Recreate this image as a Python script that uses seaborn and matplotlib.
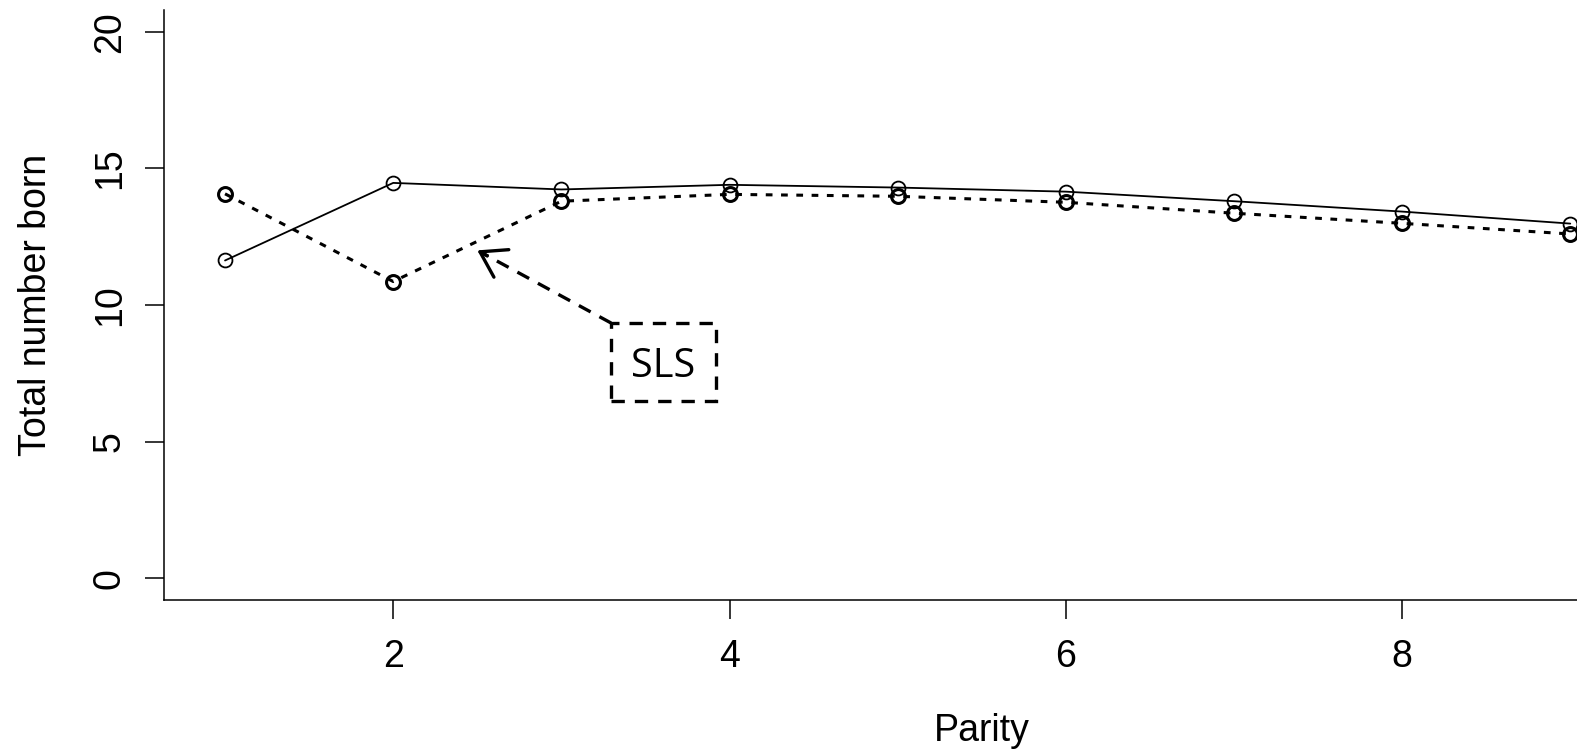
import matplotlib
matplotlib.use("Agg")
import matplotlib.pyplot as plt
import seaborn as sns
import pandas as pd
from matplotlib.patches import Rectangle

parity = [1, 2, 3, 4, 5, 6, 7, 8, 9]
solid_vals = [11.63, 14.47, 14.23, 14.4, 14.3, 14.15, 13.8, 13.42, 12.98]
dotted_vals = [14.07, 10.86, 13.8, 14.05, 13.98, 13.76, 13.36, 12.99, 12.6]
x_ticks = [2, 4, 6, 8]
y_ticks = [0, 5, 10, 15, 20]
annot_text = "SLS"

sns.set_style("ticks")
plt.rcParams['font.family'] = ['Liberation Sans', 'DejaVu Sans']
plt.rcParams['text.color'] = 'black'
plt.rcParams['axes.labelcolor'] = 'black'

fig = plt.figure(figsize=(15.77, 7.51), dpi=100)
ax = fig.add_axes([164/1577, 151/751, 1 - 164/1577, 590/751])

df_s = pd.DataFrame({"Parity": parity, "val": solid_vals})
df_d = pd.DataFrame({"Parity": parity, "val": dotted_vals})

sns.lineplot(data=df_s, x="Parity", y="val", ax=ax, color="black", lw=1.3,
             marker="o", markersize=10, markerfacecolor="none",
             markeredgecolor="black", markeredgewidth=1.3, clip_on=True)
sns.lineplot(data=df_d, x="Parity", y="val", ax=ax, color="black", lw=2.2,
             linestyle=(0, (2.2, 2.8)),
             marker="o", markersize=10, markerfacecolor="none",
             markeredgecolor="black", markeredgewidth=2.2, clip_on=True)

xmin, xmax = 0.637, 9.04
ax.set_xlim(xmin, xmax)
ax.set_ylim(-0.8, 20.8)
ax.set_xticks(x_ticks)
ax.set_yticks(y_ticks)
ax.set_yticklabels([str(v) for v in y_ticks], rotation=90, va="center")
ax.tick_params(axis="both", length=14, width=1.1, labelsize=27, colors="black")
ax.tick_params(axis="x", pad=14)
ax.tick_params(axis="y", pad=12)
ax.set_xlabel("Parity", fontsize=27)
ax.set_ylabel("Total number born", fontsize=27)
ax.xaxis.set_label_coords((5.5 - xmin) / (xmax - xmin), -0.192)
ax.yaxis.set_label_coords(-0.078, 0.5)
for s in ["top", "right"]:
    ax.spines[s].set_visible(False)
for s in ["left", "bottom"]:
    ax.spines[s].set_linewidth(1.1)
    ax.spines[s].set_color("black")

# dashed annotation box
rect = Rectangle((3.296, 6.48), 0.624, 2.86, fill=False, edgecolor="black",
                 lw=2.4, linestyle=(0, (4, 3)))
ax.add_patch(rect)
ax.text(3.608, 7.75, annot_text, fontsize=28.5, family=["Open Sans", "DejaVu Sans"],
        ha="center", va="center", color="black")
# dashed arrow shaft + solid open head
head = (2.5, 12.0)
tail = (3.296, 9.34)
ax.plot([tail[0], head[0] + 0.02], [tail[1], head[1] - 0.066], color="black",
        lw=2.4, linestyle=(0, (4, 3)), solid_capstyle="butt")
ax.annotate("", xy=head, xytext=(2.56, 11.8),
            arrowprops=dict(arrowstyle="->,head_length=0.7,head_width=0.45", lw=2.4,
                            color="black", mutation_scale=25, shrinkA=0, shrinkB=0))

fig.savefig("out.png", dpi=100)
